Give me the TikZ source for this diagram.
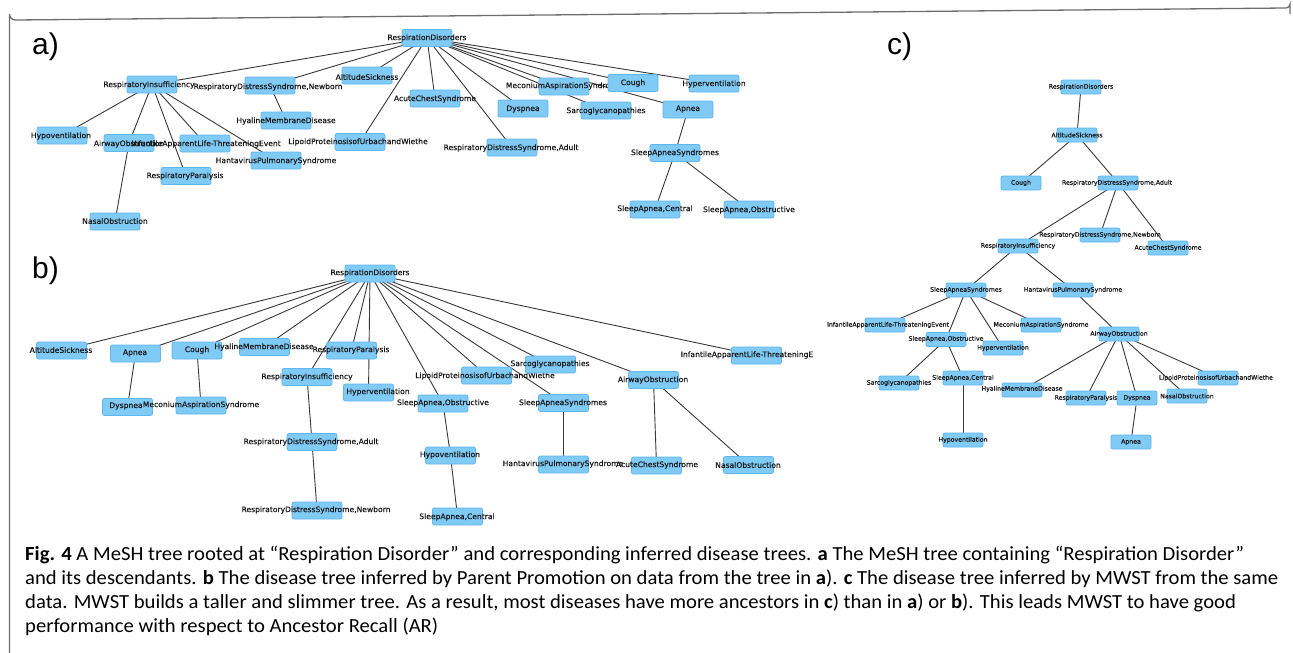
\documentclass[tikz,border=0pt]{standalone}
\usepackage{fontspec}
\usepackage{graphicx}
\newfontfamily\lblf[FakeBold=0.5]{DejaVu Sans}
\newfontfamily\capf{Carlito}
\newfontfamily\helvf{Liberation Sans}
\usetikzlibrary{calc}
\pgfdeclarelayer{background}
\pgfsetlayers{background,main}
\definecolor{boxfill}{RGB}{128,202,246}
\definecolor{boxline}{RGB}{96,182,238}
\definecolor{framecol}{RGB}{110,110,110}
\newcommand\capfont{\capf\fontsize{20}{25}\selectfont}
\newcommand\captwo{and its descendants. {\bfseries b} The disease tree inferred by Parent Promotion on data from the tree in {\bfseries a}). {\bfseries c} The disease tree inferred by MWST from the same}
\newlength\capw
\newsavebox\capbox
\setbox\capbox\hbox{\capfont\captwo}
\setlength\capw{\wd\capbox}
\pgfmathsetmacro\capscale{1253/\capw}
\newcommand\nd[6]{\node[bx] (#1) at (#2,#3) {}; \node[tx] (#1t) at (#4,#5) {#6};}
\newcommand\ndc[6]{\node[bxc] (#1) at (#2,#3) {}; \node[txc] (#1t) at (#4,#5) {#6};}
\tikzset{
  bx/.style={draw=boxline, fill=boxfill, rounded corners=2pt, minimum width=50pt, minimum height=17pt, inner sep=0pt, line width=0.8pt},
  bxc/.style={bx, minimum width=40pt, minimum height=14pt},
  tx/.style={inner sep=0pt, text=black!90, font=\lblf\fontsize{7.6}{8}\selectfont},
  txc/.style={inner sep=0pt, text=black!90, font=\lblf\fontsize{6.2}{7}\selectfont},
  edge/.style={draw=black!78, line width=0.9pt},
  panel/.style={inner sep=0pt, anchor=base west, font=\helvf\fontsize{30}{32}\selectfont},
  capline/.style={inner sep=0pt, anchor=base west, font=\capfont}
}
\begin{document}
\begin{tikzpicture}[x=1pt,y=-1pt]
\useasboundingbox (0,0) rectangle (1293,653);
% frame
\draw[framecol, line width=1.3pt] (9.5,660) -- (9.5,14) arc[start angle=180, end angle=90, radius=6] -- (1286,8) arc[start angle=90, end angle=0, radius=4] -- (1290,14);
% panel labels
\node[panel] (la) at (32,54) {a)};
\node[panel] (lb) at (32,278) {b)};
\node[panel] (lc) at (887,54) {c)};
% ---------- panel a
\nd{aRD}{427}{38}{427}{38}{RespirationDisorders}
\nd{aRI}{152}{84.5}{149}{85}{RespiratoryInsufficiency}
\nd{aRDSN}{270}{85.5}{268}{87}{RespiratoryDistressSyndrome,Newborn}
\nd{aAS}{367}{75.5}{367}{77}{AltitudeSickness}
\nd{aACS}{435}{98.5}{435}{99}{AcuteChestSyndrome}
\nd{aHMD}{286}{120.5}{286}{121}{HyalineMembraneDisease}
\nd{aHypo}{62}{135.5}{61}{136}{Hypoventilation}
\nd{aAO}{129}{143}{129}{144}{AirwayObstruction}
\nd{aIAL}{205}{143.5}{206}{144}{InfantileApparentLife-ThreateningEvent}
\nd{aHPS}{276}{160.5}{276}{161}{HantavirusPulmonarySyndrome}
\nd{aRP}{186}{176}{185}{176}{RespiratoryParalysis}
\nd{aNO}{115}{221.5}{115}{221}{NasalObstruction}
\nd{aLP}{360}{142}{358}{142}{LipoidProteinosisofUrbachandWiethe}
\nd{aMAS}{564}{86.5}{564}{86}{MeconiumAspirationSyndrome}
\nd{aCough}{633}{83}{633}{83}{Cough}
\nd{aHyper}{714}{83.5}{714}{84}{Hyperventilation}
\nd{aDys}{523}{108.5}{523}{109}{Dyspnea}
\nd{aSarco}{606}{110.5}{606}{111}{Sarcoglycanopathies}
\nd{aApnea}{688}{109.5}{688}{109}{Apnea}
\nd{aRDSA}{512}{147.5}{511}{148}{RespiratoryDistressSyndrome,Adult}
\nd{aSAS}{675}{153}{675}{153}{SleepApneaSyndromes}
\nd{aSAC}{655}{209.5}{655}{209}{SleepApnea,Central}
\nd{aSAO}{749}{209.5}{749}{210}{SleepApnea,Obstructive}
% ---------- panel b
\nd{bRD}{370}{273.5}{370}{273}{RespirationDisorders}
\nd{bAS}{61.5}{350.5}{61}{350}{AltitudeSickness}
\nd{bApnea}{135.5}{353.5}{135}{353}{Apnea}
\nd{bCough}{197}{350.5}{197}{350}{Cough}
\nd{bHMD}{264.5}{347}{264}{347}{HyalineMembraneDisease}
\nd{bRP}{351.5}{350.5}{351}{350}{RespiratoryParalysis}
\nd{bRI}{307}{377}{307}{377}{RespiratoryInsufficiency}
\nd{bHyper}{368.5}{392.5}{378}{392}{Hyperventilation}
\nd{bDys}{127.5}{407}{126}{406}{Dyspnea}
\nd{bMAS}{201}{405.5}{201}{405}{MeconiumAspirationSyndrome}
\nd{bRDSA}{312}{442}{311}{442}{RespiratoryDistressSyndrome,Adult}
\nd{bRDSN}{317}{510.5}{316}{510}{RespiratoryDistressSyndrome,Newborn}
\nd{bLP}{486.5}{375.5}{485}{376}{LipoidProteinosisofUrbachandWiethe}
\nd{bSarco}{550.5}{364.5}{550}{364}{Sarcoglycanopathies}
\nd{bSAO}{443}{403.5}{443}{403}{SleepApnea,Obstructive}
\nd{bSAS}{563.5}{403}{563}{403}{SleepApneaSyndromes}
\nd{bAO}{653.5}{380}{653}{380}{AirwayObstruction}
\nd{bIAL}{756.5}{355.5}{747}{355}{InfantileApparentLife-ThreateningE}
\nd{bHypo}{450.5}{455.5}{450}{455}{Hypoventilation}
\nd{bSAC}{457.5}{516.5}{457}{517}{SleepApnea,Central}
\nd{bHPS}{563.5}{464.5}{563}{464}{HantavirusPulmonarySyndrome}
\nd{bACS}{656.5}{465.5}{657}{465}{AcuteChestSyndrome}
\nd{bNO}{748.5}{465}{748}{465}{NasalObstruction}
% ---------- panel c
\ndc{cRD}{1081}{87}{1081}{87}{RespirationDisorders}
\ndc{cAS}{1077}{135}{1077}{135}{AltitudeSickness}
\ndc{cCough}{1021}{183}{1021}{183}{Cough}
\ndc{cRDSA}{1118}{183}{1117}{183}{RespiratoryDistressSyndrome,Adult}
\ndc{cRI}{1018}{246}{1018}{246}{RespiratoryInsufficiency}
\ndc{cRDSN}{1100}{235}{1100}{235}{RespiratoryDistressSyndrome,Newborn}
\ndc{cACS}{1168}{248}{1168}{248}{AcuteChestSyndrome}
\ndc{cSAS}{966}{290}{966}{290}{SleepApneaSyndromes}
\ndc{cHPS}{1073}{290}{1073}{290}{HantavirusPulmonarySyndrome}
\ndc{cIAL}{885}{325}{888}{325}{InfantileApparentLife-ThreateningEvent}
\ndc{cMAS}{1041}{325}{1041}{325}{MeconiumAspirationSyndrome}
\ndc{cSAO}{946}{339.5}{946}{339}{SleepApnea,Obstructive}
\ndc{cHyper}{1003}{348}{1003}{348}{Hyperventilation}
\ndc{cAO}{1119}{334}{1119}{334}{AirwayObstruction}
\ndc{cSarco}{899}{383}{899}{383}{Sarcoglycanopathies}
\ndc{cSAC}{963}{378}{963}{378}{SleepApnea,Central}
\ndc{cHMD}{1022}{390}{1022}{389}{HyalineMembraneDisease}
\ndc{cRP}{1086}{398}{1086}{398}{RespiratoryParalysis}
\ndc{cDys}{1137}{398}{1137}{398}{Dyspnea}
\ndc{cNO}{1187}{396}{1187}{396}{NasalObstruction}
\ndc{cLP}{1218}{378}{1216}{378}{LipoidProteinosisofUrbachandWiethe}
\ndc{cHypo}{963}{440}{963}{440}{Hypoventilation}
\ndc{cApnea}{1131}{442}{1131}{442}{Apnea}
% ---------- edges
\begin{pgfonlayer}{background}
\foreach \t in {aRI,aRDSN,aAS,aLP,aACS,aRDSA,aDys,aMAS,aSarco,aCough,aApnea,aHyper}
  \draw[edge] (aRD.center) -- (\t.center);
\foreach \t in {aHypo,aAO,aRP,aIAL,aHPS}
  \draw[edge] (aRI.center) -- (\t.center);
\draw[edge] (aAO.center) -- (aNO.center);
\draw[edge] (aRDSN.center) -- (aHMD.center);
\draw[edge] (aApnea.center) -- (aSAS.center);
\draw[edge] (aSAS.center) -- (aSAC.center);
\draw[edge] (aSAS.center) -- (aSAO.center);
\foreach \t in {bAS,bApnea,bCough,bHMD,bRI,bRP,bHyper,bSAO,bLP,bSAS,bSarco,bAO,bIAL}
  \draw[edge] (bRD.center) -- (\t.center);
\draw[edge] (bApnea.center) -- (bDys.center);
\draw[edge] (bCough.center) -- (bMAS.center);
\draw[edge] (bRI.center) -- (bRDSA.center);
\draw[edge] (bRDSA.center) -- (bRDSN.center);
\draw[edge] (bSAO.center) -- (bHypo.center);
\draw[edge] (bHypo.center) -- (bSAC.center);
\draw[edge] (bSAS.center) -- (bHPS.center);
\draw[edge] (bAO.center) -- (bACS.center);
\draw[edge] (bAO.center) -- (bNO.center);
\draw[edge] (cRD.center) -- (cAS.center);
\draw[edge] (cAS.center) -- (cCough.center);
\draw[edge] (cAS.center) -- (cRDSA.center);
\foreach \t in {cRI,cRDSN,cACS} \draw[edge] (cRDSA.center) -- (\t.center);
\foreach \t in {cSAS,cHPS} \draw[edge] (cRI.center) -- (\t.center);
\foreach \t in {cIAL,cSAO,cHyper,cMAS} \draw[edge] (cSAS.center) -- (\t.center);
\foreach \t in {cSarco,cSAC} \draw[edge] (cSAO.center) -- (\t.center);
\draw[edge] (cSAC.center) -- (cHypo.center);
\draw[edge] (cHPS.center) -- (cAO.center);
\foreach \t in {cHMD,cRP,cDys,cNO,cLP} \draw[edge] (cAO.center) -- (\t.center);
\draw[edge] (cDys.center) -- (cApnea.center);
\end{pgfonlayer}
% ---------- caption
\node[capline] (cap1) at (25,560) {\scalebox{\capscale}[1]{{\bfseries Fig. 4} A MeSH tree rooted at “Respiration Disorder” and corresponding inferred disease trees. {\bfseries a} The MeSH tree containing “Respiration Disorder”}};
\node[capline] (cap2) at (25,584) {\scalebox{\capscale}[1]{\captwo}};
\node[capline] (cap3) at (25,608) {\scalebox{\capscale}[1]{data. MWST builds a taller and slimmer tree. As a result, most diseases have more ancestors in {\bfseries c}) than in {\bfseries a}) or {\bfseries b}). This leads MWST to have good}};
\node[capline] (cap4) at (25,632) {\scalebox{\capscale}[1]{performance with respect to Ancestor Recall (AR)}};
\end{tikzpicture}
\end{document}
